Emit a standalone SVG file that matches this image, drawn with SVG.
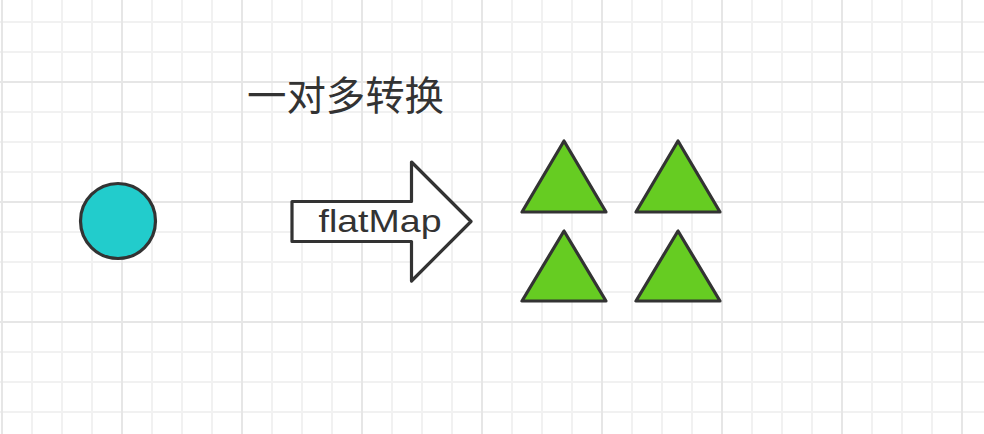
<svg xmlns="http://www.w3.org/2000/svg" width="984" height="434" viewBox="0 0 984 434">
<defs>
<pattern id="minor" x="1" y="21" width="30" height="30" patternUnits="userSpaceOnUse">
<path d="M0 0 H30 M0 0 V30" stroke="#f1f1f1" stroke-width="4" fill="none"/>
</pattern>
<pattern id="major" x="1" y="81" width="120" height="120" patternUnits="userSpaceOnUse">
<path d="M0 0 H120 M0 0 V120" stroke="#e6e6e6" stroke-width="4" fill="none"/>
</pattern>
</defs>
<style>
.shape{stroke:#333333;stroke-width:3.2;stroke-linejoin:round}
.tri{fill:#66cc22}
.label{font-family:"Liberation Sans","Noto Sans",Arial,sans-serif;fill:#333333}
.cjk{font-family:"Noto Sans CJK SC","Noto Sans",sans-serif;fill:#333333}
</style>
<rect width="984" height="434" fill="#ffffff"/>
<rect width="984" height="434" fill="url(#minor)"/>
<rect width="984" height="434" fill="url(#major)"/>
<g id="title">
<text class="cjk" x="247" y="109.5" font-size="40" textLength="197" lengthAdjust="spacingAndGlyphs">一对多转换</text>
</g>
<g id="circle">
<circle class="shape" cx="118" cy="221" r="37.5" fill="#22cccc"/>
</g>
<g id="connectors">
<g id="flatMap-arrow">
<path class="shape" d="M292 201.5 H411.5 V162 L471 221.5 L411.5 281 V241.5 H292 Z" fill="#ffffff"/>
<text class="label" x="380" y="232" font-size="32" text-anchor="middle" textLength="123" lengthAdjust="spacingAndGlyphs">flatMap</text>
</g>
</g>
<g id="tri1"><polygon class="shape tri" points="564,141 522,212 606,212"/></g>
<g id="tri2"><polygon class="shape tri" points="678,141 636,212 720,212"/></g>
<g id="tri3"><polygon class="shape tri" points="564,231 522,301 606,301"/></g>
<g id="tri4"><polygon class="shape tri" points="678,231 636,301 720,301"/></g>
</svg>
